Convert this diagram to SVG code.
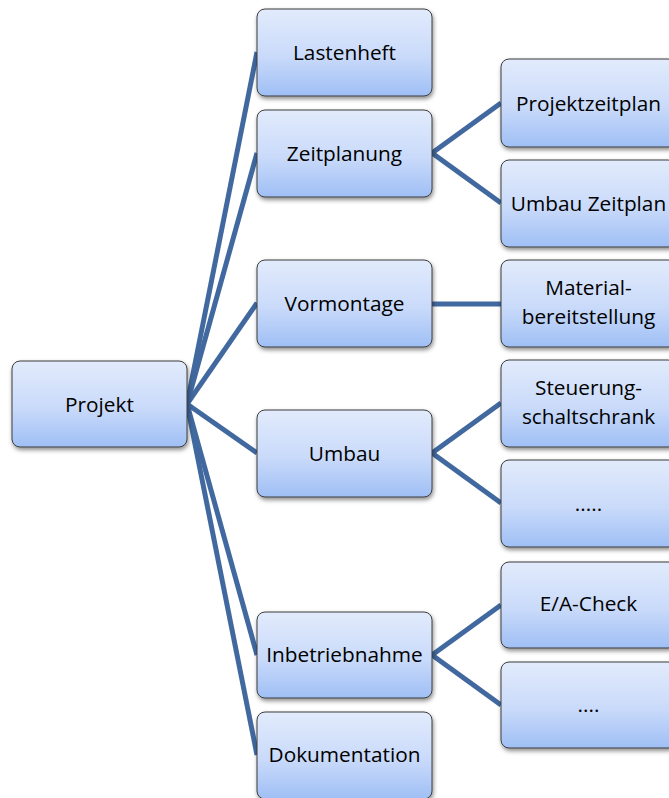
<svg xmlns="http://www.w3.org/2000/svg" width="669" height="798" viewBox="0 0 669 798">
  <defs>
    <linearGradient id="boxFill" x1="0" y1="0" x2="0" y2="1">
      <stop offset="0" stop-color="#e2ebfc"/>
      <stop offset="0.55" stop-color="#c9dafa"/>
      <stop offset="1" stop-color="#9fbff5"/>
    </linearGradient>
    <filter id="shadow" x="-10%" y="-10%" width="125%" height="130%">
      <feDropShadow dx="1" dy="2.5" stdDeviation="2" flood-color="#000" flood-opacity="0.45"/>
    </filter>
  </defs>
  <style>
    .box { fill: url(#boxFill); stroke: #3d3d3d; stroke-width: 1; filter: url(#shadow); }
    .lbl { font-family: "Open Sans", "Liberation Sans", sans-serif; font-size: 20.8px; fill: #000; text-anchor: middle; }
    .conn { stroke: #41699f; stroke-width: 5; fill: none; stroke-linecap: butt; }
  </style>
  <rect width="669" height="798" fill="#ffffff"/>

  <!-- connectors -->
  <g id="connectors">
    <line class="conn" x1="187" y1="404" x2="257" y2="52"/>
    <line class="conn" x1="187" y1="404" x2="257" y2="153"/>
    <line class="conn" x1="187" y1="404" x2="257" y2="303"/>
    <line class="conn" x1="187" y1="404" x2="257" y2="453"/>
    <line class="conn" x1="187" y1="404" x2="257" y2="655"/>
    <line class="conn" x1="187" y1="404" x2="257" y2="755"/>
    <line class="conn" x1="432" y1="153" x2="501" y2="103"/>
    <line class="conn" x1="432" y1="153" x2="501" y2="203"/>
    <line class="conn" x1="432" y1="304" x2="501" y2="304"/>
    <line class="conn" x1="432" y1="453" x2="501" y2="403"/>
    <line class="conn" x1="432" y1="453" x2="501" y2="503"/>
    <line class="conn" x1="432" y1="655" x2="501" y2="605"/>
    <line class="conn" x1="432" y1="655" x2="501" y2="705"/>
  </g>

  <!-- root -->
  <g id="projekt">
    <rect class="box" x="12" y="361" width="175" height="86" rx="8"/>
    <text class="lbl" x="99.5" y="412">Projekt</text>
  </g>

  <!-- second level -->
  <g id="lastenheft">
    <rect class="box" x="257" y="9" width="175" height="87" rx="8"/>
    <text class="lbl" x="344.5" y="60">Lastenheft</text>
  </g>
  <g id="zeitplanung">
    <rect class="box" x="257" y="110" width="175" height="87" rx="8"/>
    <text class="lbl" x="344.5" y="161">Zeitplanung</text>
  </g>
  <g id="vormontage">
    <rect class="box" x="257" y="260" width="175" height="87" rx="8"/>
    <text class="lbl" x="344.5" y="311">Vormontage</text>
  </g>
  <g id="umbau">
    <rect class="box" x="257" y="410" width="175" height="87" rx="8"/>
    <text class="lbl" x="344.5" y="461">Umbau</text>
  </g>
  <g id="inbetriebnahme">
    <rect class="box" x="257" y="612" width="175" height="86" rx="8"/>
    <text class="lbl" x="344.5" y="662">Inbetriebnahme</text>
  </g>
  <g id="dokumentation">
    <rect class="box" x="257" y="712" width="175" height="87" rx="8"/>
    <text class="lbl" x="344.5" y="762">Dokumentation</text>
  </g>

  <!-- third level -->
  <g id="projektzeitplan">
    <rect class="box" x="501" y="59" width="175" height="88" rx="8"/>
    <text class="lbl" x="588.5" y="111">Projektzeitplan</text>
  </g>
  <g id="umbau-zeitplan">
    <rect class="box" x="501" y="160" width="175" height="87" rx="8"/>
    <text class="lbl" x="588.5" y="211">Umbau Zeitplan</text>
  </g>
  <g id="materialbereitstellung">
    <rect class="box" x="501" y="260" width="175" height="87" rx="8"/>
    <text class="lbl"><tspan x="588.5" y="295">Material-</tspan><tspan x="588.5" y="324">bereitstellung</tspan></text>
  </g>
  <g id="steuerungsschaltschrank">
    <rect class="box" x="501" y="360" width="175" height="87" rx="8"/>
    <text class="lbl"><tspan x="588.5" y="395">Steuerung-</tspan><tspan x="588.5" y="424">schaltschrank</tspan></text>
  </g>
  <g id="umbau-weitere">
    <rect class="box" x="501" y="460" width="175" height="87" rx="8"/>
    <text class="lbl" x="588.5" y="511">.....</text>
  </g>
  <g id="ea-check">
    <rect class="box" x="501" y="562" width="175" height="86" rx="8"/>
    <text class="lbl" x="588.5" y="611">E/A-Check</text>
  </g>
  <g id="inbetriebnahme-weitere">
    <rect class="box" x="501" y="662" width="175" height="86" rx="8"/>
    <text class="lbl" x="588.5" y="712">....</text>
  </g>
</svg>
